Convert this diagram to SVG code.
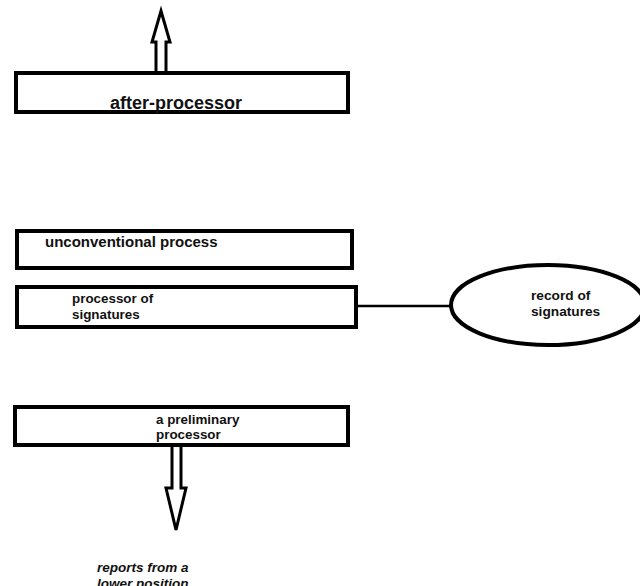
<svg xmlns="http://www.w3.org/2000/svg" width="640" height="586" viewBox="0 0 640 586">
<style>
.box{fill:#fff;stroke:#000;stroke-width:4}
.t{font-family:"Liberation Sans",Arial,sans-serif;font-weight:bold;font-size:13.4px;fill:#111}
.arr{fill:#fff;stroke:#000;stroke-width:3;stroke-linejoin:miter}
.ln{stroke:#000;stroke-width:2.5;fill:none}
</style>
<rect width="640" height="586" fill="#fff"/>
<g id="connectors">
<path class="arr" d="M156,73 L156,42 L152,42 L161,11 L170,42 L166,42 L166,73"/>
<line class="ln" x1="356" y1="306" x2="451" y2="306"/>
<path class="arr" d="M172,445 L172,488 L166,488 L176,530 L186,488 L181,488 L181,445"/>
</g>
<g id="after-processor">
<rect class="box" x="16" y="73" width="332" height="39"/>
<text class="t" x="110" y="109" style="font-size:18px">after-processor</text>
</g>
<g id="unconventional-process">
<rect class="box" x="17" y="231" width="335" height="37"/>
<text class="t" x="45" y="247" style="font-size:15px">unconventional process</text>
</g>
<g id="processor-of-signatures">
<rect class="box" x="17" y="287" width="339" height="40"/>
<text class="t" x="72" y="303">processor of</text>
<text class="t" x="72" y="319">signatures</text>
</g>
<g id="record-of-signatures">
<ellipse class="box" cx="548" cy="305" rx="97" ry="40"/>
<text class="t" x="531" y="300" style="font-size:13.7px">record of</text>
<text class="t" x="531" y="316" style="font-size:13.7px">signatures</text>
</g>
<g id="preliminary-processor">
<rect class="box" x="15" y="407" width="333" height="38"/>
<text class="t" x="156" y="424">a preliminary</text>
<text class="t" x="156" y="439">processor</text>
</g>
<g id="reports">
<text class="t" x="97" y="572" style="font-style:italic;font-size:13.5px">reports from a</text>
<text class="t" x="97" y="588" style="font-style:italic;font-size:13.5px">lower position</text>
</g>
</svg>
